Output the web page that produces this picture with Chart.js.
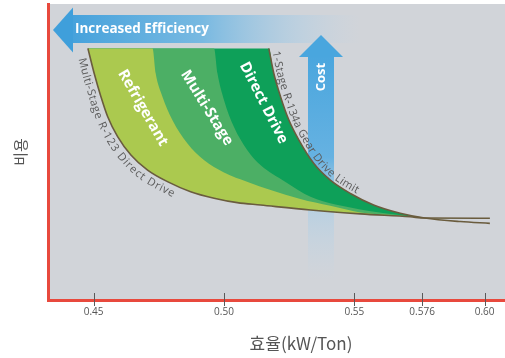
<!DOCTYPE html>
<html>
<head>
<meta charset="utf-8">
<script src="https://cdn.jsdelivr.net/npm/chart.js@4.4.1/dist/chart.umd.min.js"></script>
<style>
  html, body { margin: 0; padding: 0; background: #ffffff; }
  canvas { display: block; }
</style>
</head>
<body>
<canvas id="chart" width="505" height="358"></canvas>
<script>
// Efficiency axis (kW/Ton)
const effTicks   = [0.45, 0.50, 0.55, 0.576, 0.60];
const tickLabels = ['0.45', '0.50', '0.55', '0.576', '0.60'];

// Lower envelope: Multi-Stage R-123 Direct Drive
const r123Eff  = [0.4478, 0.4502, 0.4528, 0.4554, 0.4592, 0.4643, 0.4707, 0.4783, 0.4872, 0.4962, 0.5051, 0.5140, 0.5332, 0.5523, 0.5714, 0.5770, 0.6020];
const r123Cost = [85.0, 76.6, 68.7, 61.9, 55.2, 49.0, 43.9, 40.0, 36.6, 34.4, 32.9, 32.1, 30.4, 29.1, 28.1, 27.7, 27.6];

// Upper limit: 1-Stage R-134a Gear Drive Limit (first point closes the flat top of the field)
const r134Eff  = [0.4478, 0.5172, 0.5191, 0.5217, 0.5249, 0.5287, 0.5344, 0.5408, 0.5485, 0.5574, 0.5676, 0.5770, 0.5906, 0.6020];
const r134Cost = [85.0, 85.0, 76.6, 68.7, 60.8, 54.1, 46.2, 40.5, 36.0, 32.1, 29.3, 27.7, 26.5, 25.9];

// Boundary between Multi-Stage and Direct Drive
const driveEff  = [0.4478, 0.4962, 0.4975, 0.5000, 0.5038, 0.5089, 0.5140, 0.5236, 0.5332, 0.5523, 0.5657, 0.5770];
const driveCost = [85.0, 85.0, 76.6, 67.6, 58.5, 50.7, 45.6, 39.9, 34.9, 30.6, 28.9, 27.7];

// Boundary between Refrigerant and Multi-Stage
const stageEff  = [0.4478, 0.4726, 0.4738, 0.4764, 0.4802, 0.4860, 0.4923, 0.5000, 0.5091, 0.5179, 0.5293, 0.5408, 0.5523, 0.5657, 0.5770];
const stageCost = [85.0, 85.0, 76.6, 68.7, 60.8, 52.9, 47.3, 43.1, 39.9, 37.2, 34.1, 31.8, 29.6, 28.6, 27.7];

const bandNames  = ['Refrigerant', 'Multi-Stage', 'Direct Drive'];
const curveNames = ['Multi-Stage R-123 Direct Drive', '1-Stage R-134a Gear Drive Limit'];

const toPoints = (xs, ys) => xs.map((x, i) => ({ x: x, y: ys[i] }));

const RED = '#e8493d';
const CURVE = '#6a5c3e';
const GREEN_LIGHT = '#abc94f';
const GREEN_MID = '#4caf65';
const GREEN_DARK = '#0ea059';
const CLEAR = 'rgba(0,0,0,0)';

Chart.defaults.font.family = '"Open Sans", "Noto Sans", sans-serif';

// Band label placement (efficiency, cost, rotation in degrees)
const bandLabelLayout = [
  { x: 0.4689, y: 64.9, rot: 60 },
  { x: 0.4934, y: 64.9, rot: 58 },
  { x: 0.5152, y: 66.6, rot: 63 }
];

// Sample the drawn (bezier) path of a line dataset into a dense polyline
function densePath(meta) {
  const pts = meta.data;
  const out = [];
  for (let i = 0; i < pts.length - 1; i++) {
    const a = pts[i], b = pts[i + 1];
    const c1x = a.cp2x ?? a.x, c1y = a.cp2y ?? a.y;
    const c2x = b.cp1x ?? b.x, c2y = b.cp1y ?? b.y;
    for (let s = 0; s < 24; s++) {
      const t = s / 24, m = 1 - t;
      out.push({
        x: m*m*m*a.x + 3*m*m*t*c1x + 3*m*t*t*c2x + t*t*t*b.x,
        y: m*m*m*a.y + 3*m*m*t*c1y + 3*m*t*t*c2y + t*t*t*b.y
      });
    }
  }
  const last = pts[pts.length - 1];
  out.push({ x: last.x, y: last.y });
  return out;
}

// Write text character by character along a polyline
function textOnPath(ctx, path, text, startAt, side, gap, spacing) {
  const cum = [0];
  for (let i = 1; i < path.length; i++) {
    cum.push(cum[i - 1] + Math.hypot(path[i].x - path[i-1].x, path[i].y - path[i-1].y));
  }
  const at = (s) => {
    let i = 1;
    while (i < cum.length - 1 && cum[i] < s) i++;
    const p0 = path[i - 1], p1 = path[i];
    const seg = cum[i] - cum[i - 1] || 1;
    const f = Math.min(1, Math.max(0, (s - cum[i - 1]) / seg));
    return { x: p0.x + (p1.x - p0.x) * f, y: p0.y + (p1.y - p0.y) * f, a: Math.atan2(p1.y - p0.y, p1.x - p0.x) };
  };
  let s = startAt;
  ctx.textAlign = 'center';
  for (const ch of text) {
    const w = ctx.measureText(ch).width;
    const p = at(s + w / 2);
    ctx.save();
    ctx.translate(p.x, p.y);
    ctx.rotate(p.a);
    if (side > 0) { ctx.textBaseline = 'alphabetic'; ctx.fillText(ch, 0, -gap); }
    else { ctx.textBaseline = 'top'; ctx.fillText(ch, 0, gap); }
    ctx.restore();
    s += w + spacing;
  }
}

const decorations = {
  id: 'decorations',
  beforeDraw(chart) {
    const { ctx, chartArea: ca } = chart;
    ctx.save();
    ctx.fillStyle = '#ffffff';
    ctx.fillRect(0, 0, chart.width, chart.height);
    ctx.fillStyle = '#d1d4d9';
    ctx.fillRect(ca.left, ca.top, ca.right - ca.left, ca.bottom - ca.top);
    ctx.restore();
  },
  beforeDatasetsDraw(chart) {
    const { ctx, chartArea: ca } = chart;
    ctx.save();

    // "Increased Efficiency" arrow, pointing left
    const tipX = ca.left + 5, midY = ca.top + 26, headX = ca.left + 25;
    const bodyTop = ca.top + 11, bodyBot = ca.top + 39, bodyEnd = ca.left + 312;
    const hg = ctx.createLinearGradient(headX, 0, bodyEnd, 0);
    hg.addColorStop(0, 'rgba(70,162,220,1)');
    hg.addColorStop(0.45, 'rgba(110,182,226,0.9)');
    hg.addColorStop(0.8, 'rgba(170,205,230,0.45)');
    hg.addColorStop(1, 'rgba(190,212,230,0)');
    ctx.fillStyle = hg;
    ctx.fillRect(headX - 1, bodyTop, bodyEnd - headX + 1, bodyBot - bodyTop);
    ctx.fillStyle = '#3f9fdb';
    ctx.beginPath();
    ctx.moveTo(tipX, midY);
    ctx.lineTo(headX, midY - 22.5);
    ctx.lineTo(headX, midY + 22.5);
    ctx.closePath();
    ctx.fill();

    // "Cost" arrow, pointing up
    const cx = ca.left + 273, cTip = ca.top + 31, cBase = ca.top + 53, cEnd = ca.top + 276;
    const vg = ctx.createLinearGradient(0, cBase, 0, cEnd);
    vg.addColorStop(0, 'rgba(74,166,222,1)');
    vg.addColorStop(0.45, 'rgba(96,176,226,0.95)');
    vg.addColorStop(0.7, 'rgba(165,205,232,0.5)');
    vg.addColorStop(1, 'rgba(190,215,235,0)');
    ctx.fillStyle = vg;
    ctx.fillRect(cx - 13, cBase - 1, 26, cEnd - cBase + 1);
    ctx.fillStyle = '#49a6de';
    ctx.beginPath();
    ctx.moveTo(cx, cTip);
    ctx.lineTo(cx + 22, cBase);
    ctx.lineTo(cx - 22, cBase);
    ctx.closePath();
    ctx.fill();

    ctx.fillStyle = '#ffffff';
    ctx.font = 'bold 13.5px "Open Sans", sans-serif';
    ctx.textAlign = 'left';
    ctx.textBaseline = 'middle';
    ctx.fillText('Increased Efficiency', ca.left + 27, midY - 1);
    ctx.save();
    ctx.translate(cx, ca.top + 73);
    ctx.rotate(-Math.PI / 2);
    ctx.textAlign = 'center';
    ctx.font = 'bold 13px "Open Sans", sans-serif';
    ctx.fillText('Cost', 0, 0);
    ctx.restore();
    ctx.restore();
  },
  afterDatasetsDraw(chart) {
    const { ctx, chartArea: ca, scales } = chart;
    const xs = scales.x, ys = scales.y;
    ctx.save();

    // band names
    ctx.fillStyle = '#ffffff';
    ctx.font = 'bold 15px "Open Sans", sans-serif';
    ctx.textAlign = 'center';
    ctx.textBaseline = 'middle';
    bandNames.forEach((name, i) => {
      const L = bandLabelLayout[i];
      ctx.save();
      ctx.translate(xs.getPixelForValue(L.x), ys.getPixelForValue(L.y));
      ctx.rotate(L.rot * Math.PI / 180);
      ctx.fillText(name, 0, 0);
      ctx.restore();
    });

    // curve names written along the curves
    ctx.fillStyle = '#5b5b5b';
    ctx.font = '11px "Open Sans", sans-serif';
    textOnPath(ctx, densePath(chart.getDatasetMeta(0)), curveNames[0], 8, -1, 3, 0.4);
    textOnPath(ctx, densePath(chart.getDatasetMeta(4)), curveNames[1], 4, 1, 3, 0.4);

    // tick marks across the axis line
    ctx.strokeStyle = '#5a5a5a';
    ctx.lineWidth = 1;
    effTicks.forEach(v => {
      const px = Math.round(xs.getPixelForValue(v)) + 0.5;
      ctx.beginPath();
      ctx.moveTo(px, ca.bottom - 7);
      ctx.lineTo(px, ca.bottom + 6);
      ctx.stroke();
    });

    // axis title
    ctx.fillStyle = '#555555';
    ctx.font = '17px "Noto Sans CJK KR", sans-serif';
    ctx.textAlign = 'center';
    ctx.textBaseline = 'middle';
    ctx.fillText('효율(kW/Ton)', ca.left + 253, ca.bottom + 44);
    ctx.restore();
  }
};

const lineBase = { pointRadius: 0, cubicInterpolationMode: 'monotone' };

new Chart(document.getElementById('chart'), {
  type: 'line',
  data: {
    datasets: [
      Object.assign({
        label: curveNames[0],
        data: toPoints(r123Eff, r123Cost),
        borderColor: CURVE,
        borderWidth: 1.6,
        fill: false
      }, lineBase),
      Object.assign({
        label: bandNames[0],
        data: toPoints(stageEff, stageCost),
        borderWidth: 0,
        borderColor: CLEAR,
        backgroundColor: GREEN_LIGHT,
        fill: { target: 0, above: GREEN_LIGHT, below: CLEAR }
      }, lineBase),
      Object.assign({
        label: bandNames[1],
        data: toPoints(driveEff, driveCost),
        borderWidth: 0,
        borderColor: CLEAR,
        backgroundColor: GREEN_MID,
        fill: { target: 0, above: GREEN_MID, below: CLEAR }
      }, lineBase),
      Object.assign({
        label: bandNames[2],
        data: toPoints(r134Eff, r134Cost),
        borderWidth: 0,
        borderColor: CLEAR,
        backgroundColor: GREEN_DARK,
        fill: { target: 0, above: GREEN_DARK, below: CLEAR }
      }, lineBase),
      Object.assign({
        label: curveNames[1],
        data: toPoints(r134Eff.slice(1), r134Cost.slice(1)),
        borderColor: CURVE,
        borderWidth: 1.6,
        fill: false,
        order: -1
      }, lineBase)
    ]
  },
  options: {
    responsive: false,
    animation: false,
    layout: { padding: { top: 4, left: 0, right: 0, bottom: 0 } },
    plugins: {
      legend: { display: false },
      tooltip: { enabled: false }
    },
    scales: {
      x: {
        type: 'linear',
        min: 0.4325,
        max: 0.6078,
        afterBuildTicks: s => { s.ticks = effTicks.map(v => ({ value: v })); },
        afterFit: s => { s.height = 58; },
        ticks: {
          autoSkip: false,
          maxRotation: 0,
          padding: 6,
          color: '#555555',
          font: { size: 10 },
          callback: (v, i) => tickLabels[i]
        },
        grid: { display: false, drawTicks: false },
        border: { display: true, color: RED, width: 3 }
      },
      y: {
        type: 'linear',
        min: 0,
        max: 100,
        afterFit: s => { s.width = 48; },
        ticks: { display: false },
        grid: { display: false, drawTicks: false },
        border: { display: true, color: RED, width: 3 },
        title: {
          display: true,
          text: '비용',
          color: '#555555',
          font: { family: '"Noto Sans CJK KR", sans-serif', size: 15 },
          padding: { top: 11, bottom: 0 }
        }
      }
    }
  },
  plugins: [decorations]
});
</script>
</body>
</html>
